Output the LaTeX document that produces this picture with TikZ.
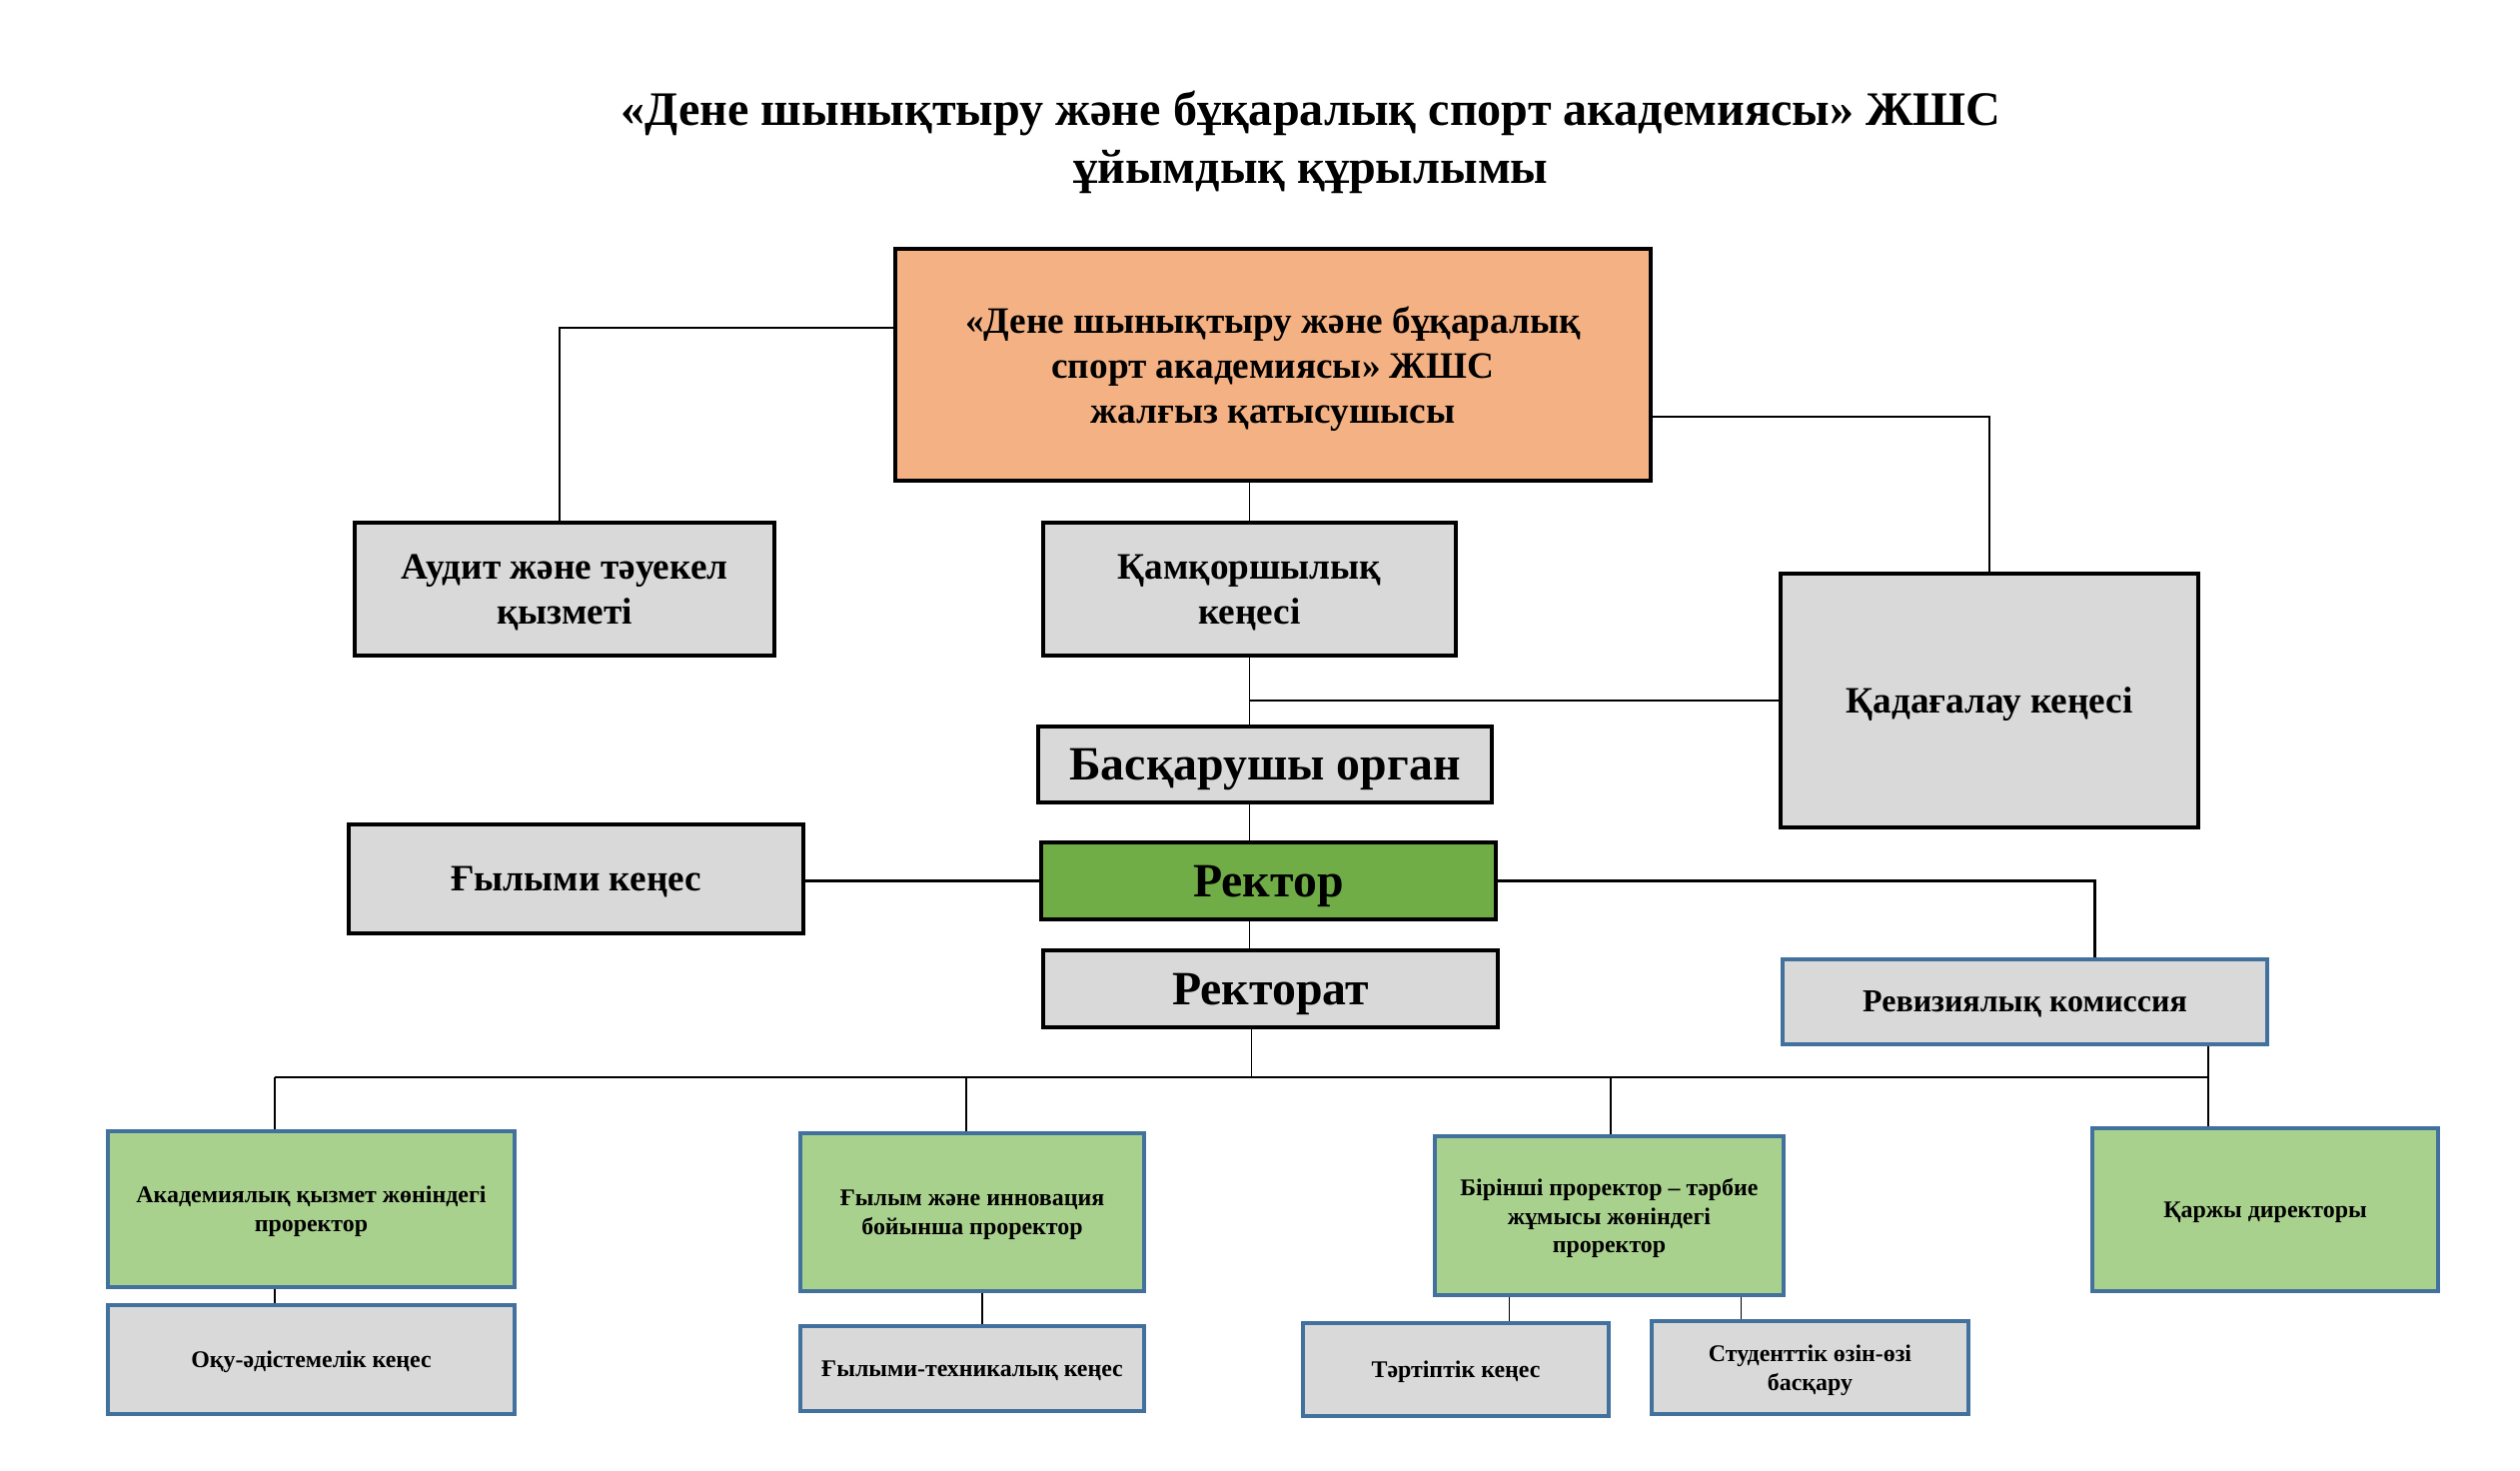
\documentclass[tikz,border=0pt]{standalone}
\usepackage{fontspec}
\setmainfont{Liberation Serif}
\usetikzlibrary{positioning, calc}

\definecolor{ownerorange}{HTML}{F4B183}
\definecolor{boxgray}{HTML}{D9D9D9}
\definecolor{rectorgreen}{HTML}{70AD47}
\definecolor{progreen}{HTML}{A9D18E}
\definecolor{boxblue}{HTML}{41719C}

\newcommand{\titlesize}{\fontsize{13.7}{16.5}\selectfont}
\newcommand{\bigsize}{\fontsize{13.6}{16}\selectfont}
\newcommand{\midsize}{\fontsize{10.6}{12.8}\selectfont}
\newcommand{\smallsize}{\fontsize{9.1}{11}\selectfont}
\newcommand{\tinysize}{\fontsize{6.8}{8.2}\selectfont}

\begin{document}
\begin{tikzpicture}[
  font=\bfseries,
  boxsize/.style 2 args={minimum width=#1cm, minimum height=#2cm},
  box/.style={draw=black, line width=1.4pt, fill=boxgray, align=center, inner sep=2pt, text depth=0pt},
  subbox/.style={draw=boxblue, line width=1.1pt, fill=boxgray, align=center, inner sep=2pt, text depth=0pt},
  probox/.style={draw=boxblue, line width=1.1pt, fill=progreen, align=center, inner sep=2pt, text depth=0pt},
  link/.style={line width=0.4pt},
  mainlink/.style={line width=0.7pt}
]
  \fill[white] (0,0) rectangle (25.22,-14.72);
  \useasboundingbox (0,0) rectangle (25.22,-14.72);

  % Title
  \node[align=center, font=\bfseries\titlesize] (title) at (13.12,-1.42)
    {«Дене шынықтыру және бұқаралық спорт академиясы» ЖШС\\ ұйымдық құрылымы};

  % Upper level
  \node[box, fill=ownerorange, boxsize={7.56}{2.32}, font=\bfseries\midsize] (owner) at (12.74,-3.65)
    {«Дене шынықтыру және бұқаралық\\ спорт академиясы» ЖШС\\ жалғыз қатысушысы};
  \node[box, boxsize={4.20}{1.33}, font=\bfseries\midsize] (audit) at (5.65,-5.895)
    {Аудит және тәуекел\\ қызметі};
  \node[box, boxsize={4.13}{1.33}, font=\bfseries\midsize] (board) at (12.505,-5.895)
    {Қамқоршылық\\ кеңесі};
  \node[box, boxsize={4.18}{2.54}, font=\bfseries\midsize] (supervis) at (19.91,-7.01)
    {Қадағалау кеңесі};
  \node[box, boxsize={4.54}{0.76}, font=\bfseries\bigsize] (exec) at (12.66,-7.65)
    {Басқарушы орган};
  \node[box, boxsize={4.55}{1.09}, font=\bfseries\midsize] (scicouncil) at (5.765,-8.795)
    {Ғылыми кеңес};
  \node[box, fill=rectorgreen, boxsize={4.55}{0.77}, font=\bfseries\bigsize] (rector) at (12.695,-8.815)
    {Ректор};
  \node[box, boxsize={4.55}{0.77}, font=\bfseries\bigsize] (rectorate) at (12.715,-9.895)
    {Ректорат};
  \node[subbox, boxsize={4.85}{0.85}, font=\bfseries\smallsize] (revision) at (20.265,-10.025)
    {Ревизиялық комиссия};

  % Vice-rectors
  \node[probox, boxsize={4.07}{1.56}, font=\bfseries\tinysize] (acad) at (3.115,-12.10)
    {Академиялық қызмет жөніндегі\\ проректор};
  \node[probox, boxsize={3.44}{1.58}, font=\bfseries\tinysize] (sci) at (9.73,-12.13)
    {Ғылым және инновация\\ бойынша проректор};
  \node[probox, boxsize={3.49}{1.59}, font=\bfseries\tinysize] (first) at (16.105,-12.165)
    {Бірінші проректор – тәрбие\\ жұмысы жөніндегі\\ проректор};
  \node[probox, boxsize={3.46}{1.63}, font=\bfseries\tinysize] (finance) at (22.67,-12.105)
    {Қаржы директоры};

  % Councils
  \node[subbox, boxsize={4.07}{1.09}, font=\bfseries\tinysize] (method) at (3.115,-13.605)
    {Оқу-әдістемелік кеңес};
  \node[subbox, boxsize={3.44}{0.85}, font=\bfseries\tinysize] (tech) at (9.73,-13.695)
    {Ғылыми-техникалық кеңес};
  \node[subbox, boxsize={3.06}{0.93}, font=\bfseries\tinysize] (discipline) at (14.57,-13.705)
    {Тәртіптік кеңес};
  \node[subbox, boxsize={3.17}{0.93}, font=\bfseries\tinysize] (student) at (18.115,-13.685)
    {Студенттік өзін-өзі\\ басқару};

  % Connectors
  \draw[link] ([yshift=0.37cm]owner.west) -| ([xshift=-0.05cm]audit.north);
  \draw[link] ([yshift=-0.52cm]owner.east) -| (supervis.north);
  \draw[link] (board.north |- owner.south) -- (board.north);
  \draw[link] (board.south) -- (board.south |- exec.north);
  \draw[mainlink] (supervis.west) -- (supervis.west -| board.south);
  \draw[link] (board.south |- exec.south) -- (board.south |- rector.north);
  \draw[mainlink] (rector.west -| scicouncil.east) -- (rector.west);
  \draw[mainlink] (rector.east) -| ([xshift=0.7cm]revision.north);
  \draw[link] (board.south |- rector.south) -- (board.south |- rectorate.north);

  \coordinate (busL) at (2.75,-10.78);
  \coordinate (busR) at (22.10,-10.78);
  \draw[link] ([xshift=0.02cm]board.south |- rectorate.south) -- ([xshift=0.02cm]board.south |- busL);
  \draw[mainlink] (busL) -- (busR);
  \draw[link] (busR |- revision.south) -- (busR |- finance.north);
  \draw[link] (busL) -- (busL |- acad.north);
  \draw[link] (9.67,-10.78) -- (9.67,-10.78 |- sci.north);
  \draw[link] (16.12,-10.78) -- (16.12,-10.78 |- first.north);
  \draw[link] (acad.south -| busL) -- (method.north -| busL);
  \draw[link] ([xshift=0.1cm]sci.south) -- ([xshift=0.1cm]tech.north);
  \draw[link] ([xshift=-1cm]first.south) -- ([xshift=-1cm]first.south |- discipline.north);
  \draw[link] ([xshift=1.32cm]first.south) -- ([xshift=1.32cm]first.south |- student.north);
\end{tikzpicture}
\end{document}
